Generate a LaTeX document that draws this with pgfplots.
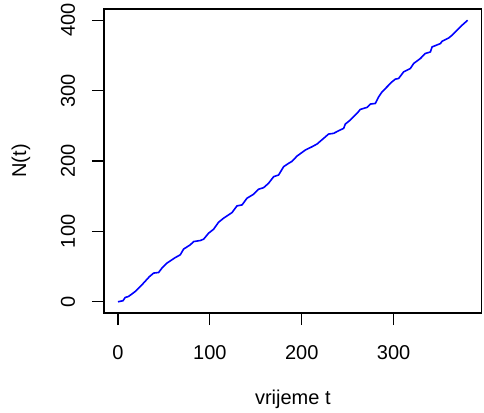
\documentclass[border=0pt]{standalone}
\usepackage{fontspec}
\setmainfont{Liberation Sans}
\usepackage{pgfplots}
\pgfplotsset{compat=1.18}

\begin{document}
\fontsize{20bp}{24bp}\selectfont
\begin{tikzpicture}
\useasboundingbox (-104bp,-100bp) rectangle (380bp,313bp);
\begin{axis}[
    at={(0,0)}, anchor=south west,
    scale only axis,
    width=377.7bp, height=304bp,
    xmin=-15.2, xmax=395.8,
    ymin=-16, ymax=416,
    xtick={0,100,200,300},
    ytick={0,100,200,300,400},
    xtick pos=lower, ytick pos=left,
    tick align=outside,
    major tick length=12bp,
    tick style={black, line width=1.1bp},
    axis line style={line width=1.1bp},
    /pgf/number format/assume math mode=true,
    xticklabel style={anchor=center, yshift=-28bp},
    yticklabel style={rotate=90, anchor=center, yshift=24bp},
    xlabel={vrijeme t},
    ylabel={N(t)},
    xlabel style={at={(axis description cs:0.5,-0.2829)}, anchor=center},
    ylabel style={at={(axis description cs:-0.2198,0.5)}, anchor=center},
]
\addplot[color={rgb,255:red,0;green,0;blue,255}, line width=1.6bp] coordinates {
    (0,0) (5.4,1.4) (7.9,6.1) (11.5,7.5) (18.8,14.6) (26.1,24.1)
    (34.4,35.9) (38.8,40.7) (44.2,41.6) (47.9,47.8) (53.3,54.9)
    (62.4,62.8) (67.8,66.7) (71.4,74.8) (78.7,80.9) (82.3,85.5)
    (89.6,87) (93.2,88.9) (98.6,97.4) (104.1,103.1) (109.5,113)
    (114.9,118.7) (124.1,126.7) (129.5,136.2) (135,137.6) (140.4,147.1)
    (147.6,152.8) (153,159.9) (158.5,162.1) (163.9,168.4) (169.4,177.7)
    (174.8,180.1) (180.3,192) (185.7,196.7) (189.4,199.5) (194.8,207)
    (198,210) (203.9,215.6) (211.2,220.3) (216.6,224.1) (223.8,232.2)
    (229.2,238.3) (234.7,239.3) (240.1,243) (245.6,246.4) (247.4,252.5)
    (252.8,258.2) (260.1,267.7) (263.7,273.3) (271,276.2) (274.6,280.9)
    (280.1,281.8) (283.7,291.2) (287.4,298.3) (292.8,305.4) (298.2,312.5)
    (301.8,316.3) (305.4,317.3) (310.9,326.7) (318.2,331.5) (321.8,338.6)
    (329.1,345.7) (334.5,352.8) (340,355) (341.8,362.1) (350.9,366.9)
    (352.7,370.2) (359.9,374.9) (363.6,378.7) (367.1,383.4) (374.4,392.9)
    (380.5,400)
};
\end{axis}
\end{tikzpicture}
\end{document}
